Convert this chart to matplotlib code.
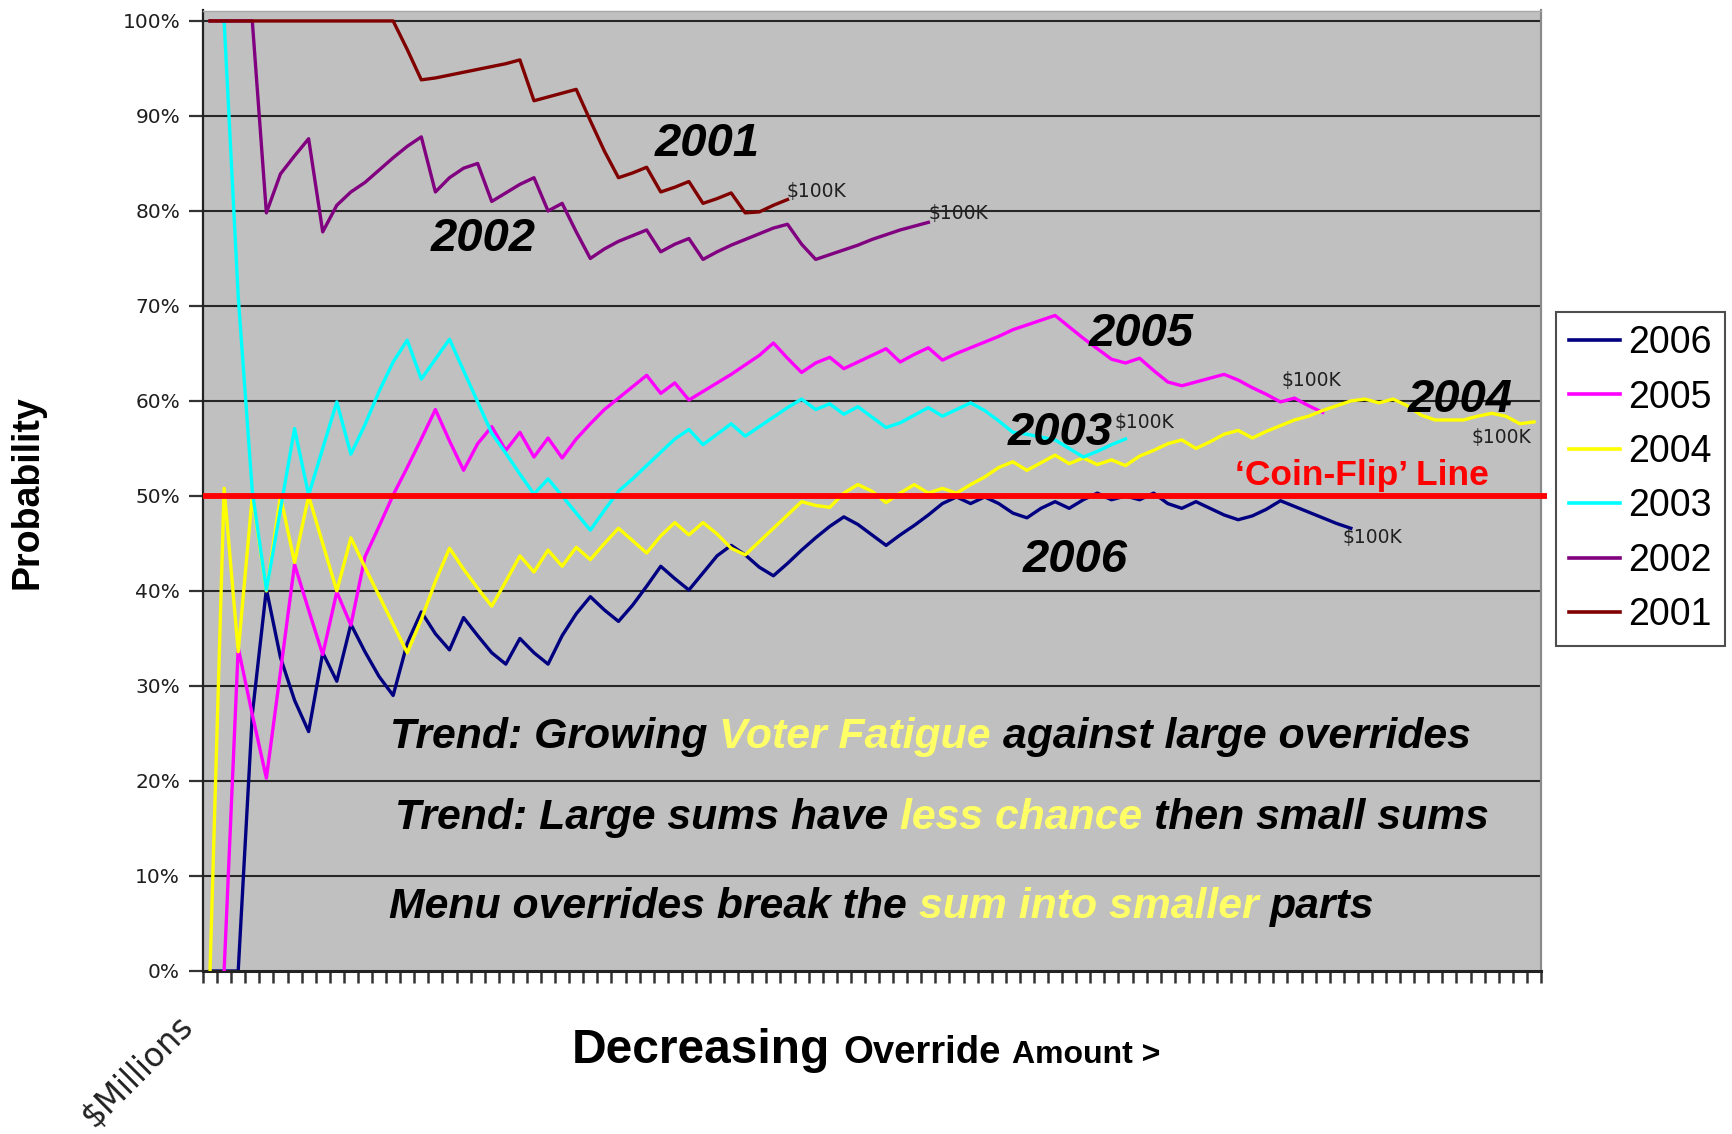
import numpy as np
import matplotlib
matplotlib.use("Agg")
import matplotlib.pyplot as plt

# ---- data (probability in %, one value per category, starting at category "start") ----
years = ["2006", "2005", "2004", "2003", "2002", "2001"]
colors = ["#000080", "#FF00FF", "#FFFF00", "#00FFFF", "#800080", "#800000"]
n_categories = 95

start = {"2006": 0, "2005": 1, "2004": 0, "2003": 1, "2002": 0, "2001": 0}

p2006 = [0, 0, 0, 27, 40.2, 33, 28.5, 25.2, 33.5, 30.5,
         36.5, 33.6, 31.0, 29.0, 34.5, 37.8, 35.5, 33.8, 37.2, 35.3,
         33.5, 32.3, 35.0, 33.5, 32.3, 35.3, 37.6, 39.4, 38.0, 36.8,
         38.5, 40.5, 42.6, 41.3, 40.1, 41.9, 43.7, 44.8, 43.8, 42.5,
         41.6, 42.9, 44.3, 45.6, 46.8, 47.8, 47.0, 45.9, 44.8, 45.9,
         46.9, 48.0, 49.2, 49.9, 49.2, 49.9, 49.2, 48.2, 47.7, 48.7,
         49.4, 48.7, 49.6, 50.3, 49.6, 50.0, 49.6, 50.3, 49.2, 48.7,
         49.4, 48.7, 48.0, 47.5, 47.9, 48.6, 49.5, 48.9, 48.3, 47.7,
         47.1, 46.6]

p2005 = [0, 34, 27, 20.3, 31.5, 42.8, 38, 33.3, 39.9, 36.4,
         43.6, 46.8, 50.1, 53.0, 56.0, 59.1, 55.8, 52.7, 55.5, 57.3,
         54.8, 56.7, 54.1, 56.1, 54.0, 56.0, 57.6, 59.1, 60.3, 61.5,
         62.7, 60.8, 61.9, 60.1, 61.0, 61.9, 62.8, 63.8, 64.8, 66.1,
         64.5, 63.0, 64.0, 64.6, 63.4, 64.1, 64.8, 65.5, 64.1, 64.9,
         65.6, 64.3, 65.0, 65.6, 66.2, 66.8, 67.5, 68.0, 68.5, 69.0,
         67.8, 66.6, 65.5, 64.4, 64.0, 64.5, 63.2, 62.0, 61.6, 62.0,
         62.4, 62.8, 62.2, 61.4, 60.7, 59.9, 60.3, 59.5, 58.8]

p2004 = [0, 50.8, 33.6, 50.0, 40.0, 50.0, 43.0, 50.0, 45.0, 40.0,
         45.6, 42.5, 39.5, 36.5, 33.5, 37.0, 41.0, 44.5, 42.3, 40.3,
         38.4, 41.0, 43.7, 42.0, 44.3, 42.6, 44.6, 43.3, 45.0, 46.6,
         45.3, 44.0, 45.8, 47.2, 45.9, 47.2, 46.0, 44.5, 43.8, 45.2,
         46.6, 48.0, 49.4, 49.0, 48.8, 50.3, 51.2, 50.5, 49.3, 50.3,
         51.2, 50.3, 50.8, 50.3, 51.2, 52.0, 53.0, 53.6, 52.7, 53.5,
         54.3, 53.4, 54.0, 53.3, 53.8, 53.2, 54.2, 54.8, 55.5, 55.9,
         55.0, 55.7, 56.5, 56.9, 56.1, 56.8, 57.4, 58.0, 58.4, 59.0,
         59.5, 60.0, 60.2, 59.8, 60.2, 59.5, 58.5, 58.0, 58.0, 58.0,
         58.4, 58.7, 58.4, 57.6, 57.8]

p2003 = [100, 71, 50.5, 40.1, 48.6, 57.1, 50.1, 55.0, 59.9, 54.4,
         57.5, 61.0, 64.1, 66.4, 62.3, 64.4, 66.5, 63.2, 59.9, 56.6,
         54.5, 52.3, 50.2, 51.8, 50.0, 48.2, 46.4, 48.5, 50.5, 51.8,
         53.2, 54.6, 56.0, 57.0, 55.4, 56.5, 57.6, 56.3, 57.3, 58.3,
         59.3, 60.2, 59.1, 59.7, 58.6, 59.4, 58.3, 57.2, 57.7, 58.5,
         59.3, 58.4, 59.1, 59.8, 59.0, 57.9, 56.7, 56.5, 56.2, 55.9,
         55.0, 54.1, 54.7, 55.4, 56.0]

p2002 = [100, 100, 100, 100, 79.8, 83.9, 85.8, 87.6, 77.8, 80.6,
         82.0, 83.0, 84.3, 85.6, 86.8, 87.8, 82.0, 83.5, 84.5, 85.0,
         81.0, 81.9, 82.8, 83.5, 80.0, 80.8, 77.8, 75.0, 76.0, 76.8,
         77.4, 78.0, 75.7, 76.5, 77.1, 74.9, 75.7, 76.4, 77.0, 77.6,
         78.2, 78.6, 76.5, 74.9, 75.4, 75.9, 76.4, 77.0, 77.5, 78.0,
         78.4, 78.8]

p2001 = [100, 100, 100, 100, 100, 100, 100, 100, 100, 100,
         100, 100, 100, 100, 97.0, 93.8, 94.0, 94.3, 94.6, 94.9,
         95.2, 95.5, 95.9, 91.6, 92.0, 92.4, 92.8, 89.5, 86.3, 83.5,
         84.0, 84.6, 82.0, 82.5, 83.1, 80.8, 81.3, 81.9, 79.8, 79.9,
         80.6, 81.2]

series = {"2006": p2006, "2005": p2005, "2004": p2004,
          "2003": p2003, "2002": p2002, "2001": p2001}

# year label positions (category, %) and "$100K" end labels
year_labels = {"2001": (35.8, 87.1), "2002": (19.9, 77.0), "2005": (66.6, 67.0),
               "2003": (60.9, 56.6), "2004": (89.3, 60.1), "2006": (61.9, 43.3)}
end_labels = {"2001": (41.4, 82.0), "2002": (51.5, 79.7), "2003": (64.7, 57.7),
              "2005": (76.6, 62.2), "2004": (90.1, 56.2), "2006": (80.9, 45.6)}

coin_flip = 50

W, H = 1733, 1134
fig = plt.figure(figsize=(W / 100, H / 100), dpi=100)
ax = fig.add_axes([203 / W, (H - 971) / H, 1338 / W, 960.5 / H])
ax.set_facecolor("#C0C0C0")
ax.set_xlim(0, n_categories)
ax.set_ylim(0, 101.1)

for g in range(10, 101, 10):
    ax.axhline(g, color="#262626", lw=1.5, zorder=1)

for i, yr in enumerate(years):
    vals = series[yr]
    x = np.arange(len(vals)) + start[yr] + 0.5
    ax.plot(x, vals, color=colors[i], lw=2.4, label=yr, zorder=2 + i,
            solid_joinstyle="round")

ax.plot([0, 95.4], [coin_flip, coin_flip], color="#FF0000", lw=4.2,
        clip_on=False, zorder=10, solid_capstyle="butt")

# axes styling
ax.set_yticks(range(0, 101, 10))
ax.set_yticklabels([f"{v}%" for v in range(0, 101, 10)], fontsize=14.5,
                   family="DejaVu Sans", color="#1e1e1e")
ax.set_xticks(range(0, n_categories + 1))
ax.set_xticklabels([])
ax.tick_params(axis="y", length=10, width=1.6, pad=6.5, color="#333333")
ax.tick_params(axis="x", length=8.5, width=1.8, color="#333333")
ax.spines["left"].set_color("#222222")
ax.spines["left"].set_linewidth(1.6)
ax.spines["bottom"].set_color("#222222")
ax.spines["bottom"].set_linewidth(2.2)
ax.spines["top"].set_color("#A8A8A8")
ax.spines["top"].set_linewidth(1.0)
ax.spines["right"].set_color("#8A8A8A")
ax.spines["right"].set_linewidth(1.6)

for yr, (xx, yy) in year_labels.items():
    ax.text(xx, yy, yr, fontsize=34, fontweight="bold", fontstyle="italic",
            family="Liberation Sans", ha="center", va="center", zorder=12)
for yr, (xx, yy) in end_labels.items():
    ax.text(xx, yy, r"\$100K", fontsize=13.5, family="DejaVu Sans",
            color="#202020", ha="left", va="center", zorder=12)

ax.text(82.3, 52.2, "\u2018Coin-Flip\u2019 Line", color="#FF0000", fontsize=25.5,
        fontweight="bold", family="Liberation Sans", ha="center", va="center",
        zorder=12)

leg = ax.legend(loc="upper left", bbox_to_anchor=(1556 / W, 1 - 312 / H),
                bbox_transform=fig.transFigure, frameon=True, fancybox=False,
                prop={"family": "Liberation Sans", "size": 27},
                handlelength=1.35, handletextpad=0.22, labelspacing=0.49,
                borderpad=0.35, borderaxespad=0)
leg.get_frame().set_edgecolor("#222222")
leg.get_frame().set_linewidth(1.5)
for ln in leg.get_lines():
    ln.set_linewidth(2.6)

# rows of text made of several coloured/sized pieces
renderer = fig.canvas.get_renderer()


def text_row(x_px, y_px, pieces, style="normal"):
    x = x_px
    for s, c, size in pieces:
        t = fig.text(x / W, 1 - y_px / H, s, color=c, fontsize=size,
                     fontweight="bold", fontstyle=style,
                     family="Liberation Sans", ha="left", va="baseline")
        bb = t.get_window_extent(renderer=renderer)
        x = bb.x1 + 0.278 * size * 100 / 72


yel = "#FFFF66"
ts = 30.8
text_row(390, 748, [("Trend: Growing", "black", ts), ("Voter Fatigue", yel, ts),
                    ("against large overrides", "black", ts)], "italic")
text_row(395, 829, [("Trend: Large sums have", "black", ts), ("less chance", yel, ts),
                    ("then small sums", "black", ts)], "italic")
text_row(389, 918, [("Menu overrides break the", "black", ts),
                    ("sum into smaller", yel, ts), ("parts", "black", ts)], "italic")

text_row(572, 1063, [("Decreasing", "black", 34.5), ("Override", "black", 27.5),
                     ("Amount >", "black", 23)])

fig.text(28 / W, 1 - 492 / H, "Probability", rotation=90, fontsize=27,
         fontweight="bold", family="Liberation Sans", ha="center", va="center")
fig.text(137 / W, 1 - 1071 / H, r"\$Millions", rotation=45, fontsize=23.5,
         family="DejaVu Sans", color="#222222", ha="center", va="center")

fig.savefig("out.png", dpi=100)
